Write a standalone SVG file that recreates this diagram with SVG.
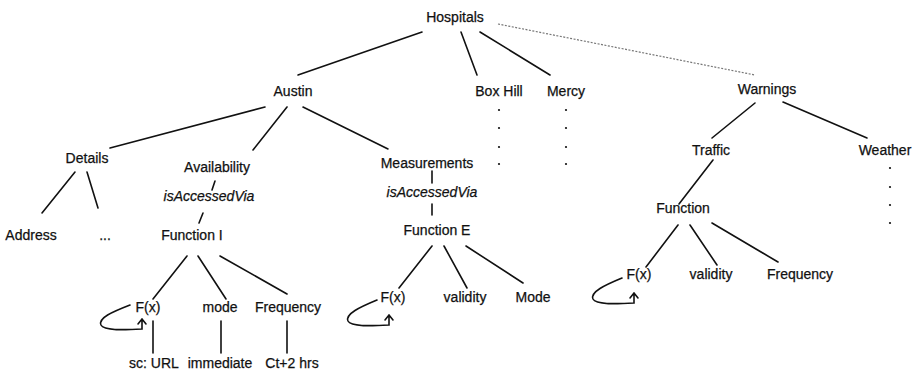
<svg xmlns="http://www.w3.org/2000/svg" width="916" height="376" viewBox="0 0 916 376">
  <style>
    text { font-family: "Liberation Sans", Arial, sans-serif; font-size: 14px; fill: #111; stroke: #111; stroke-width: 0.25; text-anchor: middle; }
    .it { font-style: italic; }
    .edge { stroke: #111; stroke-width: 1.6; fill: none; stroke-linecap: round; }
    .dash { stroke: #777; stroke-width: 1.2; stroke-dasharray: 2 1.5; fill: none; }
    .dot { fill: #111; }
  </style>
  <rect width="916" height="376" fill="#ffffff"/>

  <!-- connectors -->
  <g id="connectors">
    <line class="edge" x1="422" y1="32" x2="298" y2="75"/>
    <line class="edge" x1="461" y1="32" x2="477" y2="75"/>
    <line class="edge" x1="480" y1="32" x2="550" y2="75"/>
    <line class="dash" x1="498" y1="24" x2="755" y2="75"/>
    <line class="edge" x1="265" y1="107" x2="110" y2="148"/>
    <line class="edge" x1="287" y1="107" x2="253" y2="150"/>
    <line class="edge" x1="303" y1="107" x2="388" y2="149"/>
    <line class="edge" x1="215" y1="181" x2="212" y2="190"/>
    <line class="edge" x1="203" y1="213" x2="199" y2="223"/>
    <line class="edge" x1="432" y1="171" x2="432" y2="183"/>
    <line class="edge" x1="432" y1="204" x2="432" y2="215"/>
    <line class="edge" x1="75" y1="172" x2="42" y2="213"/>
    <line class="edge" x1="87" y1="172" x2="98" y2="208"/>
    <line class="edge" x1="187" y1="256" x2="153" y2="299"/>
    <line class="edge" x1="198" y1="256" x2="226" y2="299"/>
    <line class="edge" x1="220" y1="256" x2="287" y2="294"/>
    <line class="edge" x1="153" y1="321" x2="153" y2="353"/>
    <line class="edge" x1="221" y1="321" x2="221" y2="353"/>
    <line class="edge" x1="287" y1="321" x2="287" y2="353"/>
    <line class="edge" x1="432" y1="246" x2="399" y2="288"/>
    <line class="edge" x1="444" y1="246" x2="467" y2="288"/>
    <line class="edge" x1="466" y1="246" x2="523" y2="283"/>
    <line class="edge" x1="755" y1="103" x2="712" y2="138"/>
    <line class="edge" x1="783" y1="102" x2="867" y2="138"/>
    <line class="edge" x1="713" y1="160" x2="679" y2="204"/>
    <line class="edge" x1="678" y1="225" x2="646" y2="267"/>
    <line class="edge" x1="690" y1="225" x2="717" y2="265"/>
    <line class="edge" x1="712" y1="223" x2="778" y2="262"/>
    <!-- self loops on F(x) -->
    <path class="edge" d="M130,305 C112,312 98,318 101,325 C104,331 125,330 142,329 L142,320 M138,324 L142,319 L146,324"/>
    <path class="edge" d="M377,300 C360,307 345,314 348,321 C351,327 372,326 389,325 L389,316 M385,320 L389,315 L393,320"/>
    <path class="edge" d="M622,278 C605,285 590,292 593,299 C596,305 617,304 634,303 L634,294 M630,298 L634,293 L638,298"/>
  </g>

  <!-- nodes -->
  <g id="n-hospitals"><text x="455" y="22">Hospitals</text></g>
  <g id="n-austin"><text x="293" y="96">Austin</text></g>
  <g id="n-boxhill"><text x="499" y="96">Box Hill</text>
    <circle class="dot" cx="499" cy="110" r="1.1"/><circle class="dot" cx="499" cy="128" r="1.1"/>
    <circle class="dot" cx="499" cy="147" r="1.1"/><circle class="dot" cx="499" cy="164" r="1.1"/></g>
  <g id="n-mercy"><text x="566" y="96">Mercy</text>
    <circle class="dot" cx="566" cy="110" r="1.1"/><circle class="dot" cx="566" cy="128" r="1.1"/>
    <circle class="dot" cx="566" cy="147" r="1.1"/><circle class="dot" cx="566" cy="164" r="1.1"/></g>
  <g id="n-warnings"><text x="767" y="94">Warnings</text></g>
  <g id="n-details"><text x="87" y="163">Details</text></g>
  <g id="n-availability"><text x="217" y="172">Availability</text></g>
  <g id="n-measurements"><text x="427" y="168">Measurements</text></g>
  <g id="n-traffic"><text x="711" y="155">Traffic</text></g>
  <g id="n-weather"><text x="885" y="155">Weather</text>
    <circle class="dot" cx="890" cy="168" r="1.1"/><circle class="dot" cx="890" cy="187" r="1.1"/>
    <circle class="dot" cx="890" cy="205" r="1.1"/><circle class="dot" cx="890" cy="223" r="1.1"/></g>
  <g id="n-via-a"><text class="it" x="209" y="201">isAccessedVia</text></g>
  <g id="n-via-m"><text class="it" x="432" y="197">isAccessedVia</text></g>
  <g id="n-address"><text x="31" y="240">Address</text></g>
  <g id="n-more"><text x="105" y="240">...</text></g>
  <g id="n-function-i"><text x="192" y="240">Function I</text></g>
  <g id="n-function-e"><text x="437" y="235">Function E</text></g>
  <g id="n-function-w"><text x="683" y="213">Function</text></g>
  <g id="n-fx-i"><text x="148" y="312">F(x)</text></g>
  <g id="n-mode-i"><text x="220" y="312">mode</text></g>
  <g id="n-freq-i"><text x="288" y="312">Frequency</text></g>
  <g id="n-url"><text x="154" y="368">sc: URL</text></g>
  <g id="n-immediate"><text x="220" y="368">immediate</text></g>
  <g id="n-ct"><text x="292" y="368">Ct+2 hrs</text></g>
  <g id="n-fx-e"><text x="393" y="302">F(x)</text></g>
  <g id="n-validity-e"><text x="465" y="302">validity</text></g>
  <g id="n-mode-e"><text x="533" y="302">Mode</text></g>
  <g id="n-fx-w"><text x="639" y="279">F(x)</text></g>
  <g id="n-validity-w"><text x="711" y="279">validity</text></g>
  <g id="n-freq-w"><text x="800" y="279">Frequency</text></g>
</svg>
